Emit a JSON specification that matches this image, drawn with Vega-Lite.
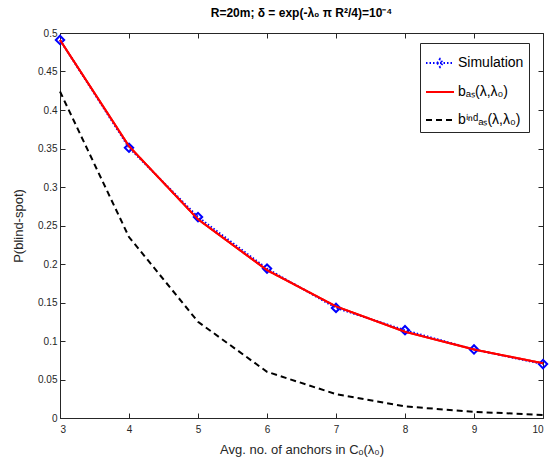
{
  "$schema": "https://vega.github.io/schema/vega-lite/v6.json",
  "width": 483,
  "height": 385,
  "autosize": {"type": "none"},
  "padding": {"left": 60, "top": 33, "right": 14, "bottom": 46},
  "background": "white",
  "config": {
    "font": "Liberation Sans",
    "view": {"stroke": "#262626", "strokeWidth": 1},
    "axis": {"grid": false, "domainColor": "#262626", "tickColor": "#262626", "labelColor": "#262626", "titleColor": "#262626", "labelFontSize": 10, "titleFontSize": 13, "titleFontWeight": "normal", "labelFont": "Liberation Sans", "titleFont": "Liberation Sans"}
  },
  "title": {"text": "R=20m; δ = exp(-λ₀ π R²/4)=10⁻⁴", "fontSize": 12, "fontWeight": "bold", "font": "Liberation Sans", "color": "#000000", "offset": 8, "anchor": "middle"},
  "data": {"values": [
    {"x": 3, "y": 0.491, "s": "Simulation"},
    {"x": 4, "y": 0.351, "s": "Simulation"},
    {"x": 5, "y": 0.261, "s": "Simulation"},
    {"x": 6, "y": 0.194, "s": "Simulation"},
    {"x": 7, "y": 0.143, "s": "Simulation"},
    {"x": 8, "y": 0.114, "s": "Simulation"},
    {"x": 9, "y": 0.089, "s": "Simulation"},
    {"x": 10, "y": 0.070, "s": "Simulation"},
    {"x": 3, "y": 0.491, "s": "bₐₛ(λ,λ₀)"},
    {"x": 4, "y": 0.353, "s": "bₐₛ(λ,λ₀)"},
    {"x": 5, "y": 0.258, "s": "bₐₛ(λ,λ₀)"},
    {"x": 6, "y": 0.192, "s": "bₐₛ(λ,λ₀)"},
    {"x": 7, "y": 0.145, "s": "bₐₛ(λ,λ₀)"},
    {"x": 8, "y": 0.112, "s": "bₐₛ(λ,λ₀)"},
    {"x": 9, "y": 0.089, "s": "bₐₛ(λ,λ₀)"},
    {"x": 10, "y": 0.071, "s": "bₐₛ(λ,λ₀)"},
    {"x": 3, "y": 0.424, "s": "bⁱⁿᵈₐₛ(λ,λ₀)"},
    {"x": 4, "y": 0.235, "s": "bⁱⁿᵈₐₛ(λ,λ₀)"},
    {"x": 5, "y": 0.125, "s": "bⁱⁿᵈₐₛ(λ,λ₀)"},
    {"x": 6, "y": 0.060, "s": "bⁱⁿᵈₐₛ(λ,λ₀)"},
    {"x": 7, "y": 0.031, "s": "bⁱⁿᵈₐₛ(λ,λ₀)"},
    {"x": 8, "y": 0.015, "s": "bⁱⁿᵈₐₛ(λ,λ₀)"},
    {"x": 9, "y": 0.008, "s": "bⁱⁿᵈₐₛ(λ,λ₀)"},
    {"x": 10, "y": 0.004, "s": "bⁱⁿᵈₐₛ(λ,λ₀)"}
  ]},
  "resolve": {"axis": {"x": "independent", "y": "independent"}},
  "layer": [
    {
      "mark": {"type": "line", "strokeWidth": 2},
      "encoding": {
        "x": {"field": "x", "type": "quantitative", "scale": {"domain": [3, 10], "nice": false},
          "axis": {"values": [3,4,5,6,7,8,9,10], "tickSize": -5, "labelPadding": 11, "title": "Avg. no. of anchors in Cₒ(λ₀)", "titlePadding": 9}},
        "y": {"field": "y", "type": "quantitative", "scale": {"domain": [0, 0.5], "nice": false},
          "axis": {"values": [0,0.05,0.1,0.15,0.2,0.25,0.3,0.35,0.4,0.45,0.5], "format": "~g", "tickSize": -5, "labelPadding": 8, "title": "P(blind-spot)", "titlePadding": 12}},
        "color": {"field": "s", "type": "nominal",
          "scale": {"domain": ["Simulation", "bₐₛ(λ,λ₀)", "bⁱⁿᵈₐₛ(λ,λ₀)"], "range": ["#0000ff", "#ff0000", "#000000"]},
          "legend": {"orient": "none", "legendX": 360, "legendY": 10, "title": null, "strokeColor": "#262626", "fillColor": "white", "padding": 5, "labelFontSize": 14, "labelFont": "Liberation Sans", "labelColor": "#000000", "symbolType": "stroke", "symbolSize": 784, "symbolStrokeWidth": 2, "rowPadding": 6, "labelOffset": 3,
            "encode": {"symbols": {"update": {
              "strokeDash": {"signal": "datum.value === 'Simulation' ? [1.5,2] : (datum.value === 'bₐₛ(λ,λ₀)' ? [1,0] : [6,4])"},
              "shape": {"signal": "datum.value === 'Simulation' ? 'M-1,0H1M-0.2,0L0,-0.28L0.2,0L0,0.28Z' : 'stroke'"}
            }}}}
        },
        "strokeDash": {"field": "s", "type": "nominal",
          "scale": {"domain": ["Simulation", "bₐₛ(λ,λ₀)", "bⁱⁿᵈₐₛ(λ,λ₀)"], "range": [[1.5,2], [1,0], [6,4]]},
          "legend": null}
      }
    },
    {
      "transform": [{"filter": "datum.s === 'Simulation'"}],
      "mark": {"type": "point", "shape": "diamond", "filled": false, "stroke": "#0000ff", "strokeWidth": 2, "size": 70, "opacity": 1},
      "encoding": {
        "x": {"field": "x", "type": "quantitative", "axis": {"orient": "top", "values": [3,4,5,6,7,8,9,10], "tickSize": -5, "labels": false, "title": null, "domain": false}},
        "y": {"field": "y", "type": "quantitative", "axis": {"orient": "right", "values": [0,0.05,0.1,0.15,0.2,0.25,0.3,0.35,0.4,0.45,0.5], "tickSize": -5, "labels": false, "title": null, "domain": false}}
      }
    },
    {
      "transform": [{"filter": "datum.s === 'bₐₛ(λ,λ₀)'"}],
      "mark": {"type": "line", "strokeWidth": 2, "color": "#ff0000"},
      "encoding": {
        "x": {"field": "x", "type": "quantitative", "axis": null},
        "y": {"field": "y", "type": "quantitative", "axis": null}
      }
    }
  ]
}
